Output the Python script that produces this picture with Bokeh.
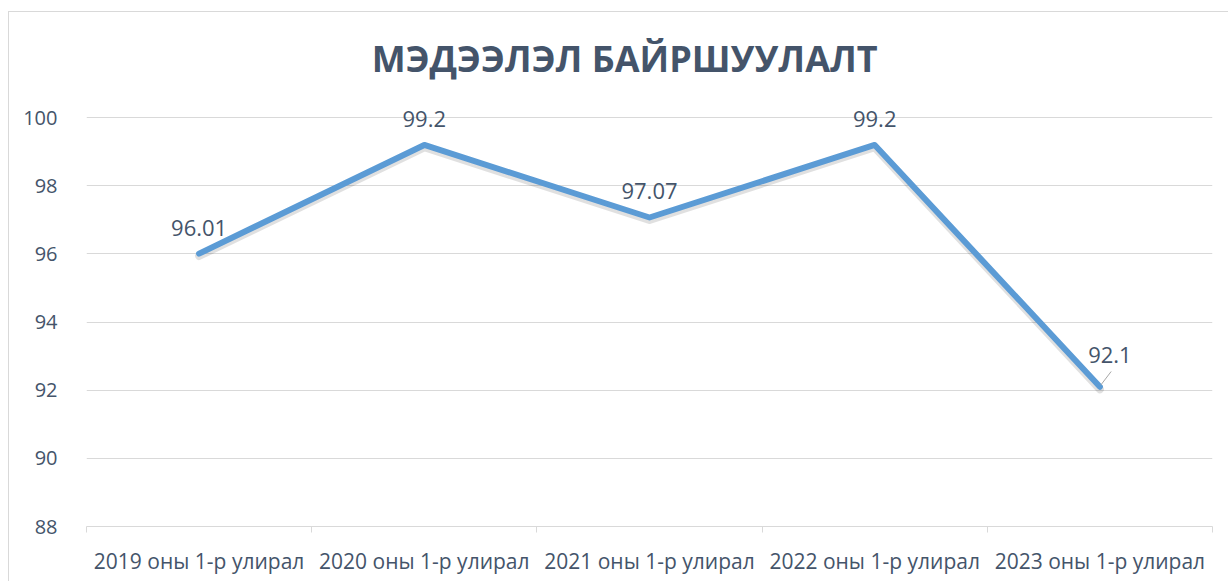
from bokeh.plotting import figure
from bokeh.models import Range1d, FixedTicker, ColumnDataSource, LabelSet, Label
from bokeh.core.properties import value
from bokeh.embed import file_html
from bokeh.resources import INLINE

categories = ["2019 оны 1-р улирал", "2020 оны 1-р улирал", "2021 оны 1-р улирал",
              "2022 оны 1-р улирал", "2023 оны 1-р улирал"]
values = [96.01, 99.2, 97.07, 99.2, 92.1]
value_labels = ["96.01", "99.2", "97.07", "99.2", "92.1"]
y_ticks = [88, 90, 92, 94, 96, 98, 100]
title_text = "МЭДЭЭЛЭЛ БАЙРШУУЛАЛТ"

FONT = "Open Sans"
TXT = "#44546A"
GRID = "#D9D9D9"
LINE = "#5B9BD5"

xs = list(range(len(categories)))
n = len(categories)

p = figure(width=1220, height=570, output_backend="svg", toolbar_location=None,
           x_range=Range1d(-0.5, n - 0.5), y_range=Range1d(88, 102.5),
           min_border_left=77, min_border_right=17, min_border_top=20, min_border_bottom=56,
           margin=(11, 0, 0, 8),
           styles={"border-left": "1px solid #D9D9D9", "border-top": "1px solid #D9D9D9"})
p.outline_line_color = None
p.background_fill_color = "white"
p.border_fill_color = "white"

# y axis
p.yaxis.ticker = FixedTicker(ticks=y_ticks)
p.yaxis.axis_line_color = None
p.yaxis.major_tick_line_color = None
p.yaxis.minor_tick_line_color = None
p.yaxis.major_label_standoff = 23
p.yaxis.major_label_text_font = FONT
p.yaxis.major_label_text_font_size = "20px"
p.yaxis.major_label_text_color = TXT
p.ygrid.grid_line_color = GRID
p.ygrid.grid_line_width = 1
p.ygrid.ticker = FixedTicker(ticks=y_ticks)

# x axis
boundaries = [i - 0.5 for i in range(n + 1)]
p.xaxis.ticker = FixedTicker(ticks=xs, minor_ticks=boundaries)
p.xaxis.major_label_overrides = {i: c for i, c in zip(xs, categories)}
p.xaxis.axis_line_color = GRID
p.xaxis.major_tick_line_color = None
p.xaxis.minor_tick_line_color = GRID
p.xaxis.minor_tick_out = 6
p.xaxis.minor_tick_in = 0
p.xaxis.major_label_standoff = 14
p.xaxis.major_label_text_font = FONT
p.xaxis.major_label_text_font_size = "21px"
p.xaxis.major_label_text_color = TXT
p.xgrid.grid_line_color = None

src = ColumnDataSource(dict(x=xs, y=values, lbl=value_labels,
                            ys=[v - 0.07 for v in values]))

# soft shadow
p.line("x", "ys", source=src, line_color="black", line_alpha=0.12, line_width=8,
       line_join="round", line_cap="round")
p.line("x", "y", source=src, line_color=LINE, line_width=6,
       line_join="round", line_cap="round")

# data labels (last one offset with leader line)
main = ColumnDataSource(dict(x=xs[:-1], y=values[:-1], lbl=value_labels[:-1]))
p.add_layout(LabelSet(x="x", y="y", text="lbl", source=main, y_offset=18,
                      text_align="center", text_baseline="bottom",
                      text_font=value(FONT), text_font_size=value("22px"),
                      text_color=TXT))
last = ColumnDataSource(dict(x=[xs[-1]], y=[values[-1]], lbl=[value_labels[-1]]))
p.add_layout(LabelSet(x="x", y="y", text="lbl", source=last, y_offset=24, x_offset=10,
                      text_align="center", text_baseline="bottom",
                      text_font=value(FONT), text_font_size=value("22px"),
                      text_color=TXT))
p.segment(x0=[xs[-1] + 0.005], y0=[values[-1] + 0.06], x1=[xs[-1] + 0.05],
          y1=[values[-1] + 0.45], line_color="#A6A6A6", line_width=1)

# title
p.add_layout(Label(x=(n - 1) / 2 - 0.11, y=101.75, text=title_text, text_align="center",
                   text_baseline="middle", text_font=FONT, text_font_size="36px",
                   text_font_style="bold", text_color=TXT))

open("out.html", "w").write(file_html(p, INLINE))
